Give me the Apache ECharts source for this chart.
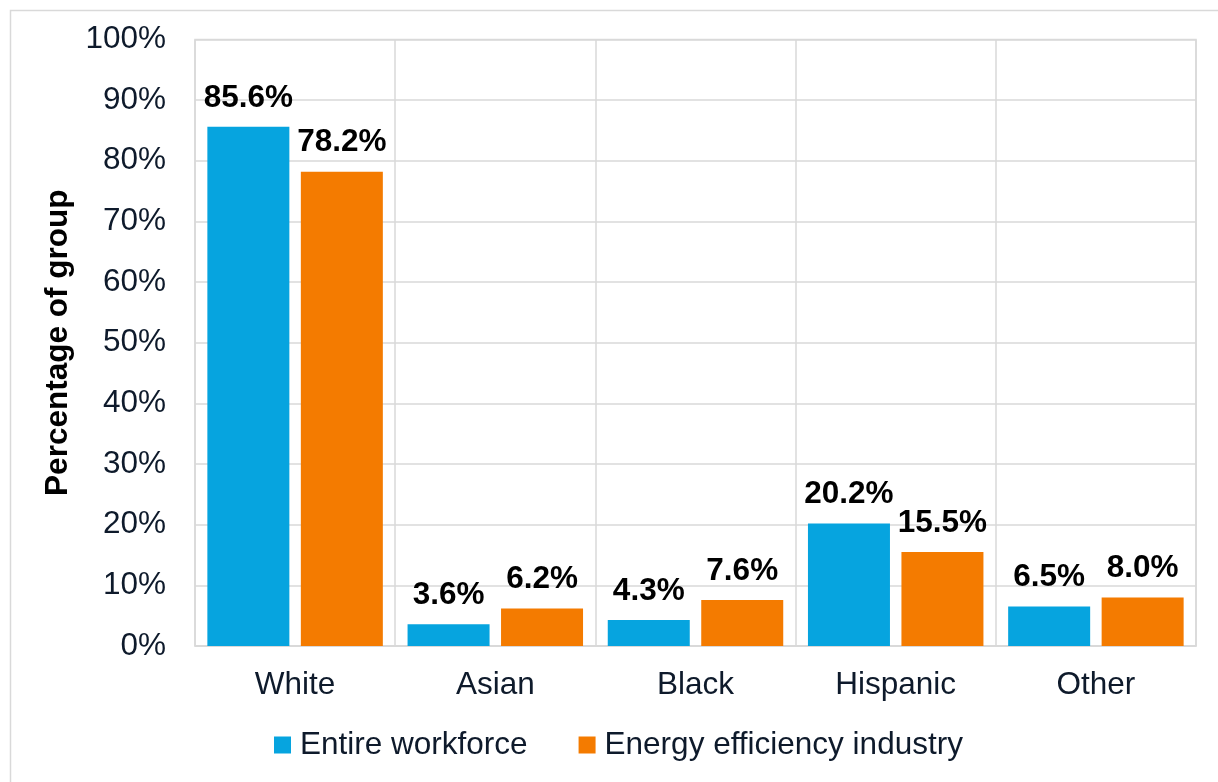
<!DOCTYPE html>
<html>
<head>
<meta charset="utf-8">
<script src="https://cdn.jsdelivr.net/npm/echarts@6/dist/echarts.min.js"></script>
<style>
  html, body { margin: 0; padding: 0; background: #fff; }
  #chart { width: 1218px; height: 782px; }
</style>
</head>
<body>
<div id="chart"></div>
<script>
// Workforce composition by race / ethnicity (percent of each group)
const categories = ['White', 'Asian', 'Black', 'Hispanic', 'Other'];
const entireWorkforce = [85.6, 3.6, 4.3, 20.2, 6.5];
const energyEfficiency = [78.2, 6.2, 7.6, 15.5, 8.0];
const seriesNames = ['Entire workforce', 'Energy efficiency industry'];

const FONT = 'Liberation Sans, Arial, sans-serif';
const TEXT = '#0E1A2B';
const GRID = '#D9D9D9';
const FS = 31.5;

const chart = echarts.init(document.getElementById('chart'), null, { renderer: 'canvas' });

const valueLabel = {
  show: true,
  position: 'top',
  distance: 13,
  color: '#000',
  fontFamily: FONT,
  fontSize: FS,
  fontWeight: 'bold',
  formatter: p => p.value.toFixed(1) + '%'
};

chart.setOption({
  animation: false,
  backgroundColor: '#fff',
  graphic: [{
    type: 'rect',
    left: 8, top: 8,
    shape: { width: 1240, height: 800 },
    style: { fill: 'none', stroke: GRID, lineWidth: 1.5 },
    silent: true
  }],
  grid: {
    left: 195, right: 22, top: 39.5, bottom: 136,
    show: true, borderColor: GRID, borderWidth: 1.5
  },
  legend: {
    data: seriesNames,
    left: 274, top: 729,
    padding: 0,
    icon: 'rect',
    itemWidth: 17, itemHeight: 17,
    itemGap: 51,
    textStyle: { color: TEXT, fontFamily: FONT, fontSize: FS, padding: [0, 0, 0, 4] }
  },
  xAxis: {
    type: 'category',
    data: categories,
    axisLine: { lineStyle: { color: GRID, width: 1.5 } },
    axisTick: { show: false },
    splitLine: { show: true, lineStyle: { color: GRID, width: 1.5 } },
    axisLabel: { color: TEXT, fontFamily: FONT, fontSize: FS, margin: 23 }
  },
  yAxis: {
    type: 'value',
    min: 0, max: 100, interval: 10,
    name: 'Percentage of group',
    nameLocation: 'middle',
    nameGap: 117,
    nameTextStyle: { color: '#000', fontFamily: FONT, fontSize: 31.5, fontWeight: 'bold' },
    axisLine: { show: false },
    axisTick: { show: false },
    splitLine: { lineStyle: { color: GRID, width: 1.5 } },
    axisLabel: { color: TEXT, fontFamily: FONT, fontSize: FS, margin: 29, formatter: v => v + '%' }
  },
  series: [
    {
      name: seriesNames[0], type: 'bar', data: entireWorkforce,
      barWidth: 82, barGap: '14%',
      itemStyle: { color: '#06A4DF' },
      label: valueLabel
    },
    {
      name: seriesNames[1], type: 'bar', data: energyEfficiency,
      barWidth: 82,
      itemStyle: { color: '#F47B00' },
      label: valueLabel
    }
  ]
});
</script>
</body>
</html>
